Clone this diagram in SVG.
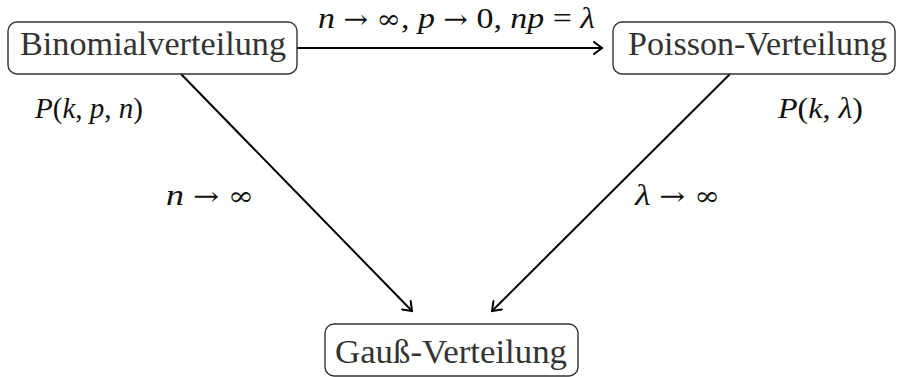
<svg xmlns="http://www.w3.org/2000/svg" width="897" height="377" viewBox="0 0 897 377">
<style>
.box{fill:none;stroke:#333;stroke-width:1.4}
.nt{font-family:"Liberation Serif",serif;font-size:34px;fill:#333}
.mt{font-family:"Liberation Serif",serif;font-size:30px;fill:#111}
.it{font-style:italic}
.sym{font-family:"DejaVu Serif",serif;font-size:26px}
.edge{fill:none;stroke:#000;stroke-width:2}
</style>
<defs>
<marker id="arr" viewBox="-10 -7 12 14" refX="0" refY="0" markerWidth="12" markerHeight="14" markerUnits="userSpaceOnUse" orient="auto">
<path d="M-8,-6 Q-2,-1.5 0,0 Q-2,1.5 -8,6" fill="none" stroke="#000" stroke-width="2" stroke-linecap="round"/>
</marker>
</defs>
<rect width="897" height="377" fill="#fff"/>
<g id="connectors">
<line class="edge" x1="297" y1="48" x2="602" y2="48" marker-end="url(#arr)"/>
<line class="edge" x1="181" y1="74" x2="412" y2="311" marker-end="url(#arr)"/>
<line class="edge" x1="730" y1="74" x2="492" y2="311" marker-end="url(#arr)"/>
</g>
<g id="binomial">
<rect class="box" x="8" y="22" width="289" height="52" rx="9"/>
<text class="nt" x="20" y="55" textLength="266" lengthAdjust="spacingAndGlyphs">Binomialverteilung</text>
</g>
<g id="poisson">
<rect class="box" x="613" y="22" width="282" height="52" rx="9"/>
<text class="nt" x="628" y="55" textLength="259" lengthAdjust="spacingAndGlyphs">Poisson-Verteilung</text>
</g>
<g id="gauss">
<rect class="box" x="325" y="324" width="253" height="52" rx="9"/>
<text class="nt" x="335" y="363" textLength="232" lengthAdjust="spacingAndGlyphs">Gauß-Verteilung</text>
</g>
<g id="labels">
<text class="mt" x="318" y="28" textLength="277" lengthAdjust="spacingAndGlyphs"><tspan class="it">n</tspan> <tspan class="sym">→</tspan> <tspan class="sym">∞</tspan>, <tspan class="it">p</tspan> <tspan class="sym">→</tspan> 0, <tspan class="it">np</tspan> = <tspan class="it">λ</tspan></text>
<text class="mt" x="35" y="118" textLength="108" lengthAdjust="spacingAndGlyphs"><tspan class="it">P</tspan>(<tspan class="it">k</tspan>, <tspan class="it">p</tspan>, <tspan class="it">n</tspan>)</text>
<text class="mt" x="778" y="118" textLength="85" lengthAdjust="spacingAndGlyphs"><tspan class="it">P</tspan>(<tspan class="it">k</tspan>, <tspan class="it">λ</tspan>)</text>
<text class="mt" x="166" y="205" textLength="88" lengthAdjust="spacingAndGlyphs"><tspan class="it">n</tspan> <tspan class="sym">→</tspan> <tspan class="sym">∞</tspan></text>
<text class="mt" x="635" y="205" textLength="85" lengthAdjust="spacingAndGlyphs"><tspan class="it">λ</tspan> <tspan class="sym">→</tspan> <tspan class="sym">∞</tspan></text>
</g>
</svg>
